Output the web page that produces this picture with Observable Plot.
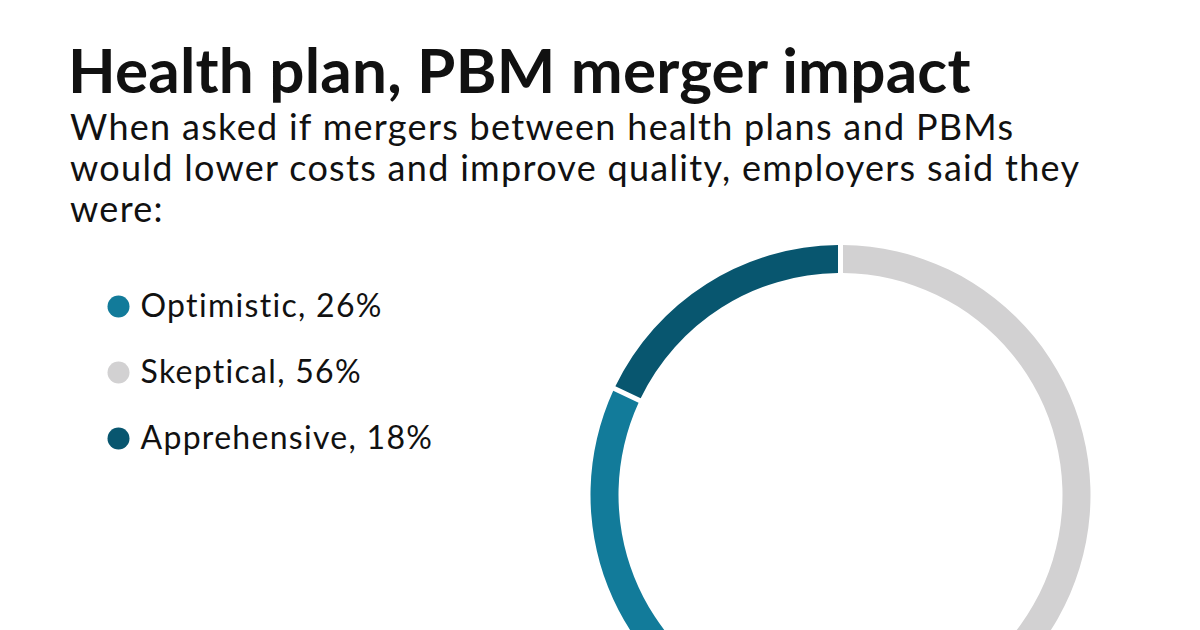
<!DOCTYPE html>
<html>
<head>
<meta charset="utf-8">
<script src="https://cdn.jsdelivr.net/npm/d3@7"></script>
<script src="https://cdn.jsdelivr.net/npm/@observablehq/plot@0.6"></script>
<style>
  html, body { margin: 0; padding: 0; background: #fff; overflow: hidden; }
  body { width: 1200px; height: 630px; position: relative; font-family: Lato, "Noto Sans", sans-serif; color: #111; }
  #title {
    position: absolute; left: 68px; top: 31px; margin: 0;
    font-size: 62px; font-weight: 700; line-height: 76px; white-space: nowrap;
    letter-spacing: 0.2px;
  }
  #subtitle {
    position: absolute; left: 70px; top: 106px; margin: 0;
    font-size: 36px; font-weight: 400; line-height: 41px; white-space: nowrap;
    letter-spacing: 1.3px;
  }
  #chart { position: absolute; left: 0; top: 235px; }
</style>
</head>
<body>
<h1 id="title">Health plan, PBM merger impact</h1>
<p id="subtitle">When asked if mergers between health plans and PBMs<br>would lower costs and improve quality, employers said they<br>were:</p>
<div id="chart"></div>
<script>
// ─────────────────────────────────────────────
//  DATA
// ─────────────────────────────────────────────
const LABELS = ["Optimistic", "Skeptical", "Apprehensive"];   // legend order
const VALUES = [26, 56, 18];                                   // percent
const COLORS = ["#127b9a", "#d2d1d2", "#08566f"];
const RING_ORDER = ["Skeptical", "Optimistic", "Apprehensive"]; // clockwise from 12 o'clock

const rows = LABELS.map((label, i) => ({ label, value: VALUES[i] }));

// ─────────────────────────────────────────────
//  LAYOUT
// ─────────────────────────────────────────────
const CX = 840.5, CY = 260;      // ring centre inside the svg
const R_OUT = 250, R_IN = 222;   // ring radii
const GAP = 5;                   // white gap between slices, px

// barX + stackX gives cumulative angles (x scale maps 0..100 % to 0..360 deg),
// the render function then bends each bar into an arc
function ringRender(index, scales, values) {
  const arc = d3.arc()
    .innerRadius(R_IN)
    .outerRadius(R_OUT)
    .padRadius(R_OUT)
    .padAngle(GAP / R_OUT);
  const g = d3.create("svg:g").attr("transform", `translate(${CX},${CY})`);
  g.selectAll("path")
    .data(Array.from(index))
    .join("path")
      .attr("d", i => arc({
        startAngle: values.x1[i] * Math.PI / 180,
        endAngle:   values.x2[i] * Math.PI / 180
      }))
      .attr("fill", i => values.fill[i]);
  return g.node();
}

const chart = Plot.plot({
  width: 1200,
  height: 395,
  margin: 0,
  style: {
    fontFamily: "Lato, 'Noto Sans', sans-serif",
    color: "#111",
    overflow: "visible",
    letterSpacing: "1.3px"
  },
  x: { domain: [0, 100], range: [0, 360], axis: null },
  y: { type: "point", domain: LABELS, range: [70, 203], padding: 0, axis: null },
  color: { type: "ordinal", domain: LABELS, range: COLORS },
  marks: [
    Plot.barX(rows, Plot.stackX({
      x: "value",
      fill: "label",
      order: RING_ORDER,
      render: ringRender
    })),
    // legend
    Plot.dot(rows, {
      y: "label",
      fill: "label",
      r: 11,
      frameAnchor: "left",
      dx: 118
    }),
    Plot.text(rows, {
      y: "label",
      text: d => `${d.label}, ${d.value}%`,
      frameAnchor: "left",
      textAnchor: "start",
      dx: 140,
      dy: 0,
      fontSize: 32,
      fill: "#111"
    })
  ]
});

document.getElementById("chart").appendChild(chart);
</script>
</body>
</html>
